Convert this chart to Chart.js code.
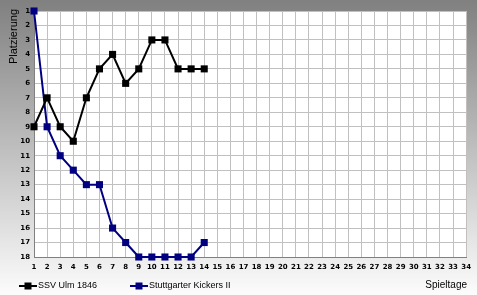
<!DOCTYPE html>
<html>
<head>
<meta charset="utf-8">
<script src="https://cdn.jsdelivr.net/npm/chart.js@4"></script>
<style>
  html, body { margin: 0; padding: 0; background: #fff; }
  #wrap { width: 477px; height: 295px; position: relative; }
</style>
</head>
<body>
<div id="wrap"><canvas id="rankChart" width="477" height="295"></canvas></div>
<script>
const spieltage = [1, 2, 3, 4, 5, 6, 7, 8, 9, 10, 11, 12, 13, 14];
const ulm = [9, 7, 9, 10, 7, 5, 4, 6, 5, 3, 3, 5, 5, 5];
const kickers = [1, 9, 11, 12, 13, 13, 16, 17, 18, 18, 18, 18, 18, 17];
const teamNames = ['SSV Ulm 1846', 'Stuttgarter Kickers II'];
const teamColors = ['#000000', '#000080'];

const toPoints = (vals) => vals.map((v, i) => ({ x: spieltage[i], y: v }));

// background gradient, white plot area, legend and axis titles
const frame = {
    id: 'frame',
    beforeDraw(chart) {
        const c = chart.ctx, a = chart.chartArea;
        const g = c.createLinearGradient(0, 0, 0, chart.height);
        g.addColorStop(0, '#808080');
        g.addColorStop(1, '#fcfcfc');
        c.save();
        c.fillStyle = g;
        c.fillRect(0, 0, chart.width, chart.height);
        c.fillStyle = '#ffffff';
        c.fillRect(a.left, a.top, a.right - a.left, a.bottom - a.top);
        c.restore();
    },
    afterDraw(chart) {
        const c = chart.ctx;
        c.save();
        c.font = '9px "Liberation Sans", Arial, sans-serif';
        c.textBaseline = 'middle';
        const items = [[19, 286], [130, 286]];
        items.forEach(([x, y], i) => {
            c.strokeStyle = teamColors[i];
            c.fillStyle = teamColors[i];
            c.lineWidth = 2;
            c.beginPath();
            c.moveTo(x, y);
            c.lineTo(x + 18, y);
            c.stroke();
            c.fillRect(x + 5.5, y - 3.5, 7, 7);
            c.fillStyle = '#000';
            c.textAlign = 'left';
            c.fillText(teamNames[i], x + 19, y);
        });
        c.font = '10px "Liberation Sans", Arial, sans-serif';
        c.textAlign = 'right';
        c.fillText('Spieltage', 467, 285);
        c.font = '11px "Liberation Sans", Arial, sans-serif';
        c.translate(14, 9);
        c.rotate(-Math.PI / 2);
        c.textAlign = 'right';
        c.fillText('Platzierung', 0, 0);
        c.restore();
    }
};

const tickFont = { family: '"DejaVu Sans", sans-serif', size: 7, weight: 'bold' };

new Chart(document.getElementById('rankChart').getContext('2d'), {
    type: 'line',
    data: {
        datasets: [
            {
                label: teamNames[0],
                data: toPoints(ulm),
                borderColor: teamColors[0],
                backgroundColor: teamColors[0],
                borderWidth: 2,
                pointStyle: 'rect',
                pointRadius: 5,
                pointBorderWidth: 0,
                tension: 0,
                clip: false
            },
            {
                label: teamNames[1],
                data: toPoints(kickers),
                borderColor: teamColors[1],
                backgroundColor: teamColors[1],
                borderWidth: 2,
                pointStyle: 'rect',
                pointRadius: 5,
                pointBorderWidth: 0,
                tension: 0,
                clip: false
            }
        ]
    },
    options: {
        responsive: false,
        animation: false,
        layout: { padding: { top: 11, right: 10, left: 0, bottom: 0 } },
        plugins: {
            legend: { display: false },
            tooltip: { enabled: false }
        },
        scales: {
            x: {
                type: 'linear',
                min: 1,
                max: 34,
                afterFit: (s) => { s.height = 38; },
                grid: { color: '#c0c0c0', drawTicks: false },
                border: { color: '#808080' },
                ticks: { stepSize: 1, autoSkip: false, maxRotation: 0, padding: 6, color: '#000', font: tickFont }
            },
            y: {
                type: 'linear',
                reverse: true,
                min: 1,
                max: 18,
                afterFit: (s) => { s.width = 34; },
                grid: { color: '#c0c0c0', drawTicks: false },
                border: { color: '#808080' },
                ticks: { stepSize: 1, autoSkip: false, padding: 4, color: '#000', font: tickFont }
            }
        }
    },
    plugins: [frame]
});
</script>
</body>
</html>
